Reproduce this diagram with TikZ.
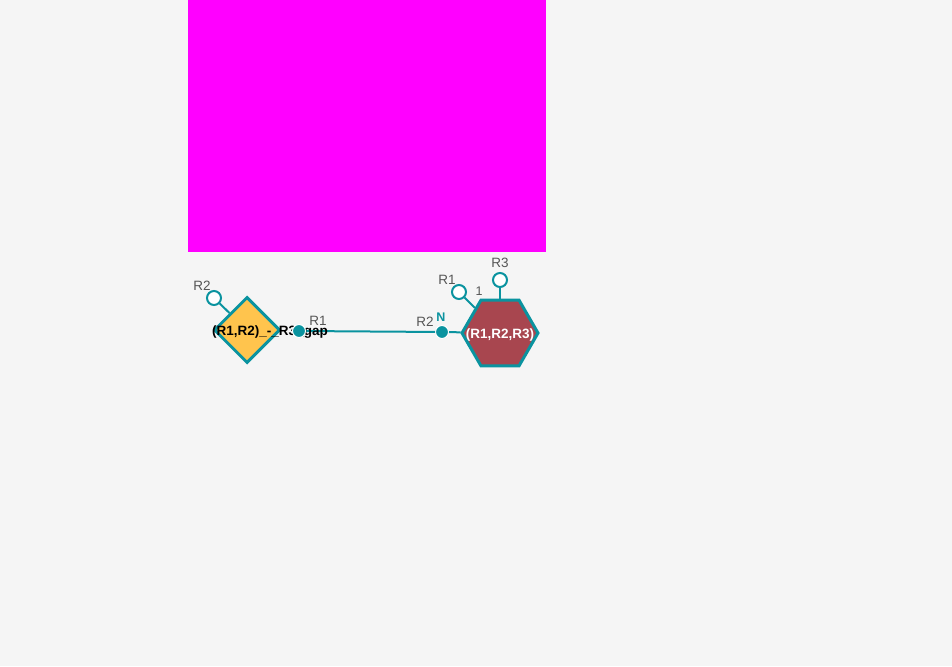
\documentclass[tikz,border=0pt]{standalone}
\usepackage{fontspec}
\setmainfont{Liberation Sans}
\usetikzlibrary{shapes.geometric}

\definecolor{bgrey}{HTML}{F5F5F5}
\definecolor{linkteal}{HTML}{0A939F}
\definecolor{gapyellow}{HTML}{FFC44D}
\definecolor{monored}{HTML}{A8464F}
\definecolor{labgrey}{HTML}{555555}
\definecolor{pinkbox}{RGB}{255,0,255}

\begin{document}
\begin{tikzpicture}[x=1pt, y=-1pt,
  link/.style={linkteal, line width=2pt},
  gapbox/.style={diamond, draw=linkteal, fill=gapyellow, line width=3pt,
    minimum width=66pt, minimum height=66pt, inner sep=0pt},
  monobox/.style={regular polygon, regular polygon sides=6, draw=linkteal,
    fill=monored, line width=3pt, minimum size=76pt, inner sep=0pt},
  stub/.style={circle, draw=linkteal, fill=white, line width=2pt,
    minimum size=14pt, inner sep=0pt},
  dot/.style={circle, fill=linkteal, draw=white, line width=1pt,
    minimum size=13pt, inner sep=0pt},
  rlab/.style={text=labgrey, font=\fontsize{13.5}{15}\selectfont, inner sep=0pt},
  namelab/.style={font=\fontsize{13.5}{15}\selectfont\bfseries, inner sep=0pt}]

% fond et rectangle magenta
\useasboundingbox[fill=bgrey] (0,0) rectangle (952,666);
\fill[pinkbox] (188,0) rectangle (546,252);

% les deux monomeres
\node[gapbox] (gap) at (247,330) {};
\node[monobox] (mono) at (500,333) {};

% points d'attache
\node[stub] (gapR2) at (214,298) {};
\node[stub] (monoR1) at (459,292) {};
\node[stub] (monoR3) at (500,280) {};
\draw[link] (gapR2) -- (gap);
\draw[link] (monoR1) -- (mono);
\draw[link] (monoR3) -- (mono);

% liaison R1 -- R2
\node[dot] (gapR1) at (299,331) {};
\node[dot] (monoR2) at (442,332) {};
\draw[link] (gapR1) -- (monoR2);
\draw[link] (monoR2) -- (mono);

% noms
\node[namelab, text=black] (gapname) at (270,332.5) {(R1,R2)\_-\_R3\_gap};
\node[dot] at (gapR1) {};
\node[namelab, text=white] (mononame) at (500,335) {(R1,R2,R3)};

% etiquettes
\node[rlab] at (202,286) {R2};
\node[rlab] at (318,321) {R1};
\node[rlab] at (425,322) {R2};
\node[rlab, text=linkteal, font=\fontsize{12.5}{14}\selectfont\bfseries] at (441,317) {N};
\node[rlab] at (447,280) {R1};
\node[rlab, font=\fontsize{12.5}{14}\selectfont] at (479,291) {1};
\node[rlab] at (500,263) {R3};

\end{tikzpicture}
\end{document}
